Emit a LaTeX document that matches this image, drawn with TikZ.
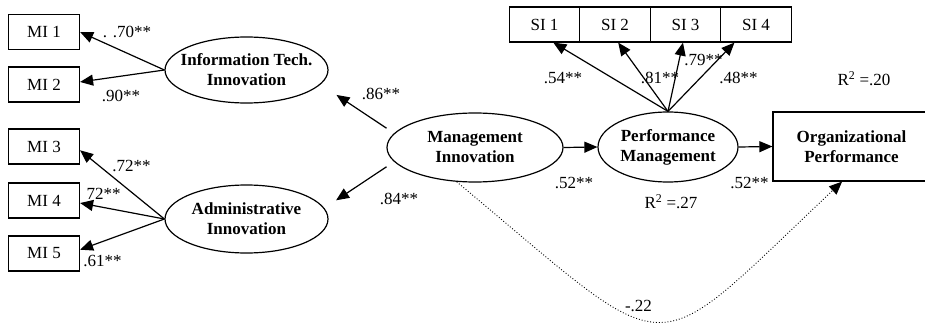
\documentclass[tikz,border=0pt]{standalone}
\usepackage{fontspec}
\setmainfont{Liberation Serif}
\usetikzlibrary{arrows.meta}
\usetikzlibrary{shapes.geometric}
\tikzset{
latent/.style={ellipse, draw, line width=1.2pt, inner sep=0pt},
manifest/.style={rectangle, draw, line width=1.2pt, inner sep=0pt, minimum width=71, minimum height=35},
coef/.style={inner sep=0pt},
effect/.style={line width=1.2pt, -{Triangle[length=13pt,width=11pt]}},
boldtext/.style={font=\fontsize{17}{20}\selectfont\bfseries, align=center},
every label/.style={boldtext, inner sep=0pt}
}

\begin{document}
\begin{tikzpicture}[x=1pt,y=-1pt,font=\fontsize{17}{20}\selectfont]
\useasboundingbox (0,0) rectangle (925,323);
\clip (0,0) rectangle (925,323);

% indicators of management innovation
\node[manifest] (mi1) at (44,32) {MI 1};
\node[manifest] (mi2) at (44,84.5) {MI 2};
\node[manifest] (mi3) at (44,146.5) {MI 3};
\node[manifest] (mi4) at (44,200.5) {MI 4};
\node[manifest] (mi5) at (44,253.5) {MI 5};

% latent variables
\node[latent, minimum width=163, minimum height=66, label=center:{Information Tech.\\Innovation}] (itinn) at (246.5,70) {};
\node[latent, minimum width=163, minimum height=68, label=center:{Administrative\\Innovation}] (adinn) at (246.5,219) {};
\node[latent, minimum width=176, minimum height=69, label=center:{Management\\Innovation}] (mginn) at (475,147.5) {};
\node[latent, minimum width=140, minimum height=70, label=center:{Performance\\Management}] (pfmgt) at (668,147) {};
\node[manifest, minimum width=157, minimum height=69, boldtext] (orgpf) at (851.5,146.5) {Organizational\\Performance};

% indicators of performance management
\node[manifest, minimum width=70.5] (si1) at (544.5,24.5) {SI 1};
\node[manifest, minimum width=70.5] (si2) at (615,24.5) {SI 2};
\node[manifest, minimum width=70.5] (si3) at (685.5,24.5) {SI 3};
\node[manifest, minimum width=70.5] (si4) at (756,24.5) {SI 4};

\draw[effect] (itinn.west) -- (mi1.east);
\draw[effect] (itinn.west) -- (mi2.4);
\draw[effect] (adinn.west) -- (mi3.-6);
\draw[effect] (adinn.west) -- (mi4.-4);
\draw[effect] (adinn.west) -- (mi5.6);

\draw[effect, shorten <=9, shorten >=19] (mginn.170) -- (itinn.-11);
\draw[effect, shorten <=9, shorten >=14] (mginn.190) -- (adinn.8);
\draw[effect] (mginn.east) -- (pfmgt.west);
\draw[effect] (pfmgt.east) -- (orgpf.west);

\draw[effect] (pfmgt.north) -- (si1.-64);
\draw[effect] (pfmgt.north) -- (si2.-80);
\draw[effect] (pfmgt.north) -- (si3.-98);
\draw[effect] (pfmgt.north) -- (si4.-140);

\draw[dotted, line width=0.9pt, -{Triangle[length=13pt,width=11pt]}] (mginn.-118) .. controls (680,368) and (644,368) .. (orgpf.-105);

% coefficients
\node[coef] (l-mi1) at (127,32) {. .70**};
\node[coef] (l-mi2) at (121,96) {.90**};
\node[coef] (l-mi3) at (131.5,166) {.72**};
\node[coef] (l-mi4) at (103.5,194) {72**};
\node[coef] (l-mi5) at (102.5,261) {.61**};
\node[coef] (l-it) at (381,94) {.86**};
\node[coef] (l-ad) at (399,199) {.84**};
\node[coef] (l-pm) at (574,183) {.52**};
\node[coef] (l-op) at (749.5,183) {.52**};
\node[coef] (l-si1) at (563,78) {.54**};
\node[coef] (l-si2) at (660,78) {.81**};
\node[coef] (l-si3) at (703.5,60) {.79**};
\node[coef] (l-si4) at (738.5,78) {.48**};
\node[coef] (r-op) at (864,79) {R\textsuperscript{2} =.20};
\node[coef] (r-pm) at (671,202) {R\textsuperscript{2} =.27};
\node[coef] (l-dir) at (638.5,306) {-.22};
\end{tikzpicture}
\end{document}
